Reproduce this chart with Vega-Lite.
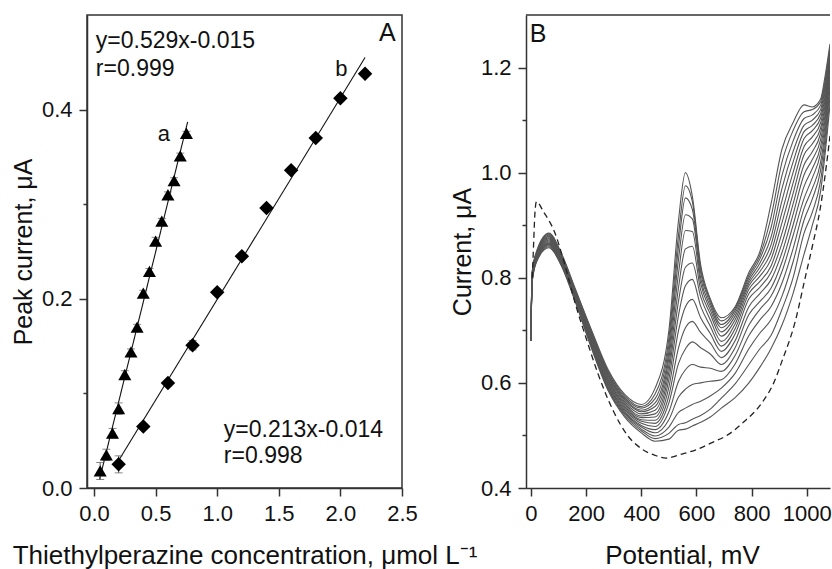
{
"$schema":"https://vega.github.io/schema/vega-lite/v6.json",
"background":"white",
"padding":{"left":10,"top":14,"right":0,"bottom":0},
"spacing":124,
"bounds":"flush",
"config":{
 "font":"Liberation Sans",
 "view":{"stroke":"#333","strokeWidth":1.5},
 "axis":{"domainColor":"#333","domainWidth":1.5,"tickColor":"#333","tickWidth":1.5,"labelFontSize":22,"labelColor":"#111","labelFont":"Liberation Sans","titleFont":"Liberation Sans","titleFontSize":25,"titleFontWeight":"normal","titleColor":"#111","grid":false}
},
"datasets":{
 "fitA":[{"s":"a","x":0.045,"y":0.009},{"s":"a","x":0.76,"y":0.387},{"s":"b","x":0.2,"y":0.029},{"s":"b","x":2.2,"y":0.455}],
 "ptsA":[
  {"s":"a","x":0.05,"y":0.018,"lo":0.009,"hi":0.027},
  {"s":"a","x":0.1,"y":0.035,"lo":0.029,"hi":0.041},
  {"s":"a","x":0.15,"y":0.058,"lo":0.053,"hi":0.063},
  {"s":"a","x":0.2,"y":0.084,"lo":0.078,"hi":0.090},
  {"s":"a","x":0.25,"y":0.120,"lo":0.116,"hi":0.124},
  {"s":"a","x":0.3,"y":0.144,"lo":0.141,"hi":0.147},
  {"s":"a","x":0.35,"y":0.170,"lo":0.167,"hi":0.173},
  {"s":"a","x":0.4,"y":0.206,"lo":0.203,"hi":0.209},
  {"s":"a","x":0.45,"y":0.229,"lo":0.226,"hi":0.232},
  {"s":"a","x":0.5,"y":0.261,"lo":0.257,"hi":0.265},
  {"s":"a","x":0.55,"y":0.282,"lo":0.279,"hi":0.285},
  {"s":"a","x":0.6,"y":0.310,"lo":0.307,"hi":0.313},
  {"s":"a","x":0.65,"y":0.325,"lo":0.322,"hi":0.328},
  {"s":"a","x":0.7,"y":0.351,"lo":0.348,"hi":0.354},
  {"s":"a","x":0.75,"y":0.375,"lo":0.373,"hi":0.377},
  {"s":"b","x":0.2,"y":0.025,"lo":0.016,"hi":0.034},
  {"s":"b","x":0.4,"y":0.065,"lo":0.062,"hi":0.068},
  {"s":"b","x":0.6,"y":0.111,"lo":0.108,"hi":0.114},
  {"s":"b","x":0.8,"y":0.151,"lo":0.146,"hi":0.156},
  {"s":"b","x":1.0,"y":0.207,"lo":0.204,"hi":0.210},
  {"s":"b","x":1.2,"y":0.245,"lo":0.242,"hi":0.248},
  {"s":"b","x":1.4,"y":0.296,"lo":0.293,"hi":0.299},
  {"s":"b","x":1.6,"y":0.336,"lo":0.333,"hi":0.339},
  {"s":"b","x":1.8,"y":0.370,"lo":0.367,"hi":0.373},
  {"s":"b","x":2.0,"y":0.412,"lo":0.409,"hi":0.415},
  {"s":"b","x":2.2,"y":0.438,"lo":0.435,"hi":0.441}
 ],
 "eqA":[{"x":0.015,"y":0.465,"t":"y=0.529x-0.015"},{"x":0.015,"y":0.436,"t":"r=0.999"},{"x":1.054,"y":0.054,"t":"y=0.213x-0.014"},{"x":1.054,"y":0.026,"t":"r=0.998"}],
 "lblA":[{"x":0.568,"y":0.3665,"t":"a"},{"x":2.007,"y":0.436,"t":"b"}],
 "panA":[{"x":2.449,"y":0.4726,"t":"A"}],
 "panB":[{"x":-4,"y":1.249,"t":"B"}],
 "dash":[{"x":5,"y":0.80},{"x":10,"y":0.87},{"x":14,"y":0.92},{"x":20,"y":0.945},{"x":45,"y":0.926},{"x":87,"y":0.885},{"x":120,"y":0.83},{"x":160,"y":0.752},{"x":200,"y":0.685},{"x":244,"y":0.616},{"x":300,"y":0.545},{"x":350,"y":0.50},{"x":400,"y":0.475},{"x":450,"y":0.462},{"x":490,"y":0.457},{"x":550,"y":0.465},{"x":600,"y":0.473},{"x":650,"y":0.485},{"x":716,"y":0.502},{"x":770,"y":0.525},{"x":837,"y":0.562},{"x":880,"y":0.60},{"x":909,"y":0.64},{"x":958,"y":0.717},{"x":994,"y":0.80},{"x":1020,"y":0.86},{"x":1048,"y":0.93},{"x":1070,"y":1.01},{"x":1084,"y":1.07}],
 "curves":[
{"c":1,"x":0,"y":0.68},{"c":1,"x":4,"y":0.790},{"c":1,"x":20,"y":0.830},{"c":1,"x":65,"y":0.857},{"c":1,"x":110,"y":0.823},{"c":1,"x":160,"y":0.755},{"c":1,"x":220,"y":0.665},{"c":1,"x":280,"y":0.585},{"c":1,"x":340,"y":0.535},{"c":1,"x":400,"y":0.505},{"c":1,"x":450,"y":0.489},{"c":1,"x":500,"y":0.493},{"c":1,"x":535,"y":0.510},{"c":1,"x":560,"y":0.512},{"c":1,"x":585,"y":0.518},{"c":1,"x":615,"y":0.525},{"c":1,"x":650,"y":0.535},{"c":1,"x":690,"y":0.552},{"c":1,"x":740,"y":0.572},{"c":1,"x":790,"y":0.600},{"c":1,"x":830,"y":0.630},{"c":1,"x":870,"y":0.665},{"c":1,"x":910,"y":0.710},{"c":1,"x":950,"y":0.770},{"c":1,"x":990,"y":0.845},{"c":1,"x":1020,"y":0.900},{"c":1,"x":1050,"y":0.965},{"c":1,"x":1065,"y":1.030},{"c":1,"x":1084,"y":1.130},
{"c":2,"x":0,"y":0.68},{"c":2,"x":4,"y":0.791},{"c":2,"x":20,"y":0.831},{"c":2,"x":65,"y":0.859},{"c":2,"x":110,"y":0.825},{"c":2,"x":160,"y":0.757},{"c":2,"x":220,"y":0.667},{"c":2,"x":280,"y":0.588},{"c":2,"x":340,"y":0.538},{"c":2,"x":400,"y":0.509},{"c":2,"x":450,"y":0.494},{"c":2,"x":500,"y":0.504},{"c":2,"x":535,"y":0.521},{"c":2,"x":560,"y":0.524},{"c":2,"x":585,"y":0.531},{"c":2,"x":615,"y":0.538},{"c":2,"x":650,"y":0.550},{"c":2,"x":690,"y":0.571},{"c":2,"x":740,"y":0.598},{"c":2,"x":790,"y":0.635},{"c":2,"x":830,"y":0.665},{"c":2,"x":870,"y":0.690},{"c":2,"x":910,"y":0.740},{"c":2,"x":950,"y":0.800},{"c":2,"x":990,"y":0.885},{"c":2,"x":1020,"y":0.925},{"c":2,"x":1050,"y":0.985},{"c":2,"x":1065,"y":1.045},{"c":2,"x":1084,"y":1.145},
{"c":3,"x":0,"y":0.68},{"c":3,"x":4,"y":0.793},{"c":3,"x":20,"y":0.833},{"c":3,"x":65,"y":0.861},{"c":3,"x":110,"y":0.826},{"c":3,"x":160,"y":0.758},{"c":3,"x":220,"y":0.670},{"c":3,"x":280,"y":0.590},{"c":3,"x":340,"y":0.541},{"c":3,"x":400,"y":0.512},{"c":3,"x":450,"y":0.499},{"c":3,"x":500,"y":0.516},{"c":3,"x":535,"y":0.544},{"c":3,"x":560,"y":0.552},{"c":3,"x":585,"y":0.559},{"c":3,"x":615,"y":0.565},{"c":3,"x":650,"y":0.575},{"c":3,"x":690,"y":0.590},{"c":3,"x":740,"y":0.618},{"c":3,"x":790,"y":0.665},{"c":3,"x":830,"y":0.695},{"c":3,"x":870,"y":0.720},{"c":3,"x":910,"y":0.765},{"c":3,"x":950,"y":0.830},{"c":3,"x":990,"y":0.910},{"c":3,"x":1020,"y":0.950},{"c":3,"x":1050,"y":1.005},{"c":3,"x":1065,"y":1.060},{"c":3,"x":1084,"y":1.160},
{"c":4,"x":0,"y":0.68},{"c":4,"x":4,"y":0.794},{"c":4,"x":20,"y":0.834},{"c":4,"x":65,"y":0.863},{"c":4,"x":110,"y":0.828},{"c":4,"x":160,"y":0.760},{"c":4,"x":220,"y":0.672},{"c":4,"x":280,"y":0.593},{"c":4,"x":340,"y":0.544},{"c":4,"x":400,"y":0.516},{"c":4,"x":450,"y":0.505},{"c":4,"x":500,"y":0.530},{"c":4,"x":535,"y":0.573},{"c":4,"x":560,"y":0.588},{"c":4,"x":585,"y":0.597},{"c":4,"x":615,"y":0.600},{"c":4,"x":650,"y":0.603},{"c":4,"x":690,"y":0.606},{"c":4,"x":740,"y":0.636},{"c":4,"x":790,"y":0.690},{"c":4,"x":830,"y":0.720},{"c":4,"x":870,"y":0.745},{"c":4,"x":910,"y":0.790},{"c":4,"x":950,"y":0.855},{"c":4,"x":990,"y":0.932},{"c":4,"x":1020,"y":0.970},{"c":4,"x":1050,"y":1.020},{"c":4,"x":1065,"y":1.073},{"c":4,"x":1084,"y":1.170},
{"c":5,"x":0,"y":0.68},{"c":5,"x":4,"y":0.795},{"c":5,"x":20,"y":0.835},{"c":5,"x":65,"y":0.864},{"c":5,"x":110,"y":0.829},{"c":5,"x":160,"y":0.762},{"c":5,"x":220,"y":0.674},{"c":5,"x":280,"y":0.596},{"c":5,"x":340,"y":0.546},{"c":5,"x":400,"y":0.519},{"c":5,"x":450,"y":0.511},{"c":5,"x":500,"y":0.545},{"c":5,"x":535,"y":0.603},{"c":5,"x":560,"y":0.625},{"c":5,"x":585,"y":0.635},{"c":5,"x":615,"y":0.630},{"c":5,"x":650,"y":0.628},{"c":5,"x":690,"y":0.622},{"c":5,"x":740,"y":0.652},{"c":5,"x":790,"y":0.710},{"c":5,"x":830,"y":0.740},{"c":5,"x":870,"y":0.765},{"c":5,"x":910,"y":0.812},{"c":5,"x":950,"y":0.880},{"c":5,"x":990,"y":0.951},{"c":5,"x":1020,"y":0.990},{"c":5,"x":1050,"y":1.037},{"c":5,"x":1065,"y":1.085},{"c":5,"x":1084,"y":1.180},
{"c":6,"x":0,"y":0.68},{"c":6,"x":4,"y":0.797},{"c":6,"x":20,"y":0.837},{"c":6,"x":65,"y":0.866},{"c":6,"x":110,"y":0.831},{"c":6,"x":160,"y":0.763},{"c":6,"x":220,"y":0.677},{"c":6,"x":280,"y":0.598},{"c":6,"x":340,"y":0.549},{"c":6,"x":400,"y":0.523},{"c":6,"x":450,"y":0.517},{"c":6,"x":500,"y":0.562},{"c":6,"x":535,"y":0.637},{"c":6,"x":560,"y":0.665},{"c":6,"x":585,"y":0.678},{"c":6,"x":615,"y":0.667},{"c":6,"x":650,"y":0.655},{"c":6,"x":690,"y":0.635},{"c":6,"x":740,"y":0.667},{"c":6,"x":790,"y":0.730},{"c":6,"x":830,"y":0.755},{"c":6,"x":870,"y":0.780},{"c":6,"x":910,"y":0.830},{"c":6,"x":950,"y":0.900},{"c":6,"x":990,"y":0.974},{"c":6,"x":1020,"y":1.008},{"c":6,"x":1050,"y":1.050},{"c":6,"x":1065,"y":1.096},{"c":6,"x":1084,"y":1.190},
{"c":7,"x":0,"y":0.68},{"c":7,"x":4,"y":0.798},{"c":7,"x":20,"y":0.838},{"c":7,"x":65,"y":0.868},{"c":7,"x":110,"y":0.833},{"c":7,"x":160,"y":0.765},{"c":7,"x":220,"y":0.679},{"c":7,"x":280,"y":0.601},{"c":7,"x":340,"y":0.552},{"c":7,"x":400,"y":0.527},{"c":7,"x":450,"y":0.523},{"c":7,"x":500,"y":0.576},{"c":7,"x":535,"y":0.667},{"c":7,"x":560,"y":0.705},{"c":7,"x":585,"y":0.717},{"c":7,"x":615,"y":0.696},{"c":7,"x":650,"y":0.676},{"c":7,"x":690,"y":0.648},{"c":7,"x":740,"y":0.680},{"c":7,"x":790,"y":0.745},{"c":7,"x":830,"y":0.770},{"c":7,"x":870,"y":0.796},{"c":7,"x":910,"y":0.848},{"c":7,"x":950,"y":0.920},{"c":7,"x":990,"y":0.996},{"c":7,"x":1020,"y":1.025},{"c":7,"x":1050,"y":1.063},{"c":7,"x":1065,"y":1.106},{"c":7,"x":1084,"y":1.200},
{"c":8,"x":0,"y":0.68},{"c":8,"x":4,"y":0.799},{"c":8,"x":20,"y":0.839},{"c":8,"x":65,"y":0.870},{"c":8,"x":110,"y":0.834},{"c":8,"x":160,"y":0.767},{"c":8,"x":220,"y":0.681},{"c":8,"x":280,"y":0.604},{"c":8,"x":340,"y":0.555},{"c":8,"x":400,"y":0.530},{"c":8,"x":450,"y":0.529},{"c":8,"x":500,"y":0.592},{"c":8,"x":535,"y":0.700},{"c":8,"x":560,"y":0.745},{"c":8,"x":585,"y":0.759},{"c":8,"x":615,"y":0.724},{"c":8,"x":650,"y":0.694},{"c":8,"x":690,"y":0.660},{"c":8,"x":740,"y":0.693},{"c":8,"x":790,"y":0.760},{"c":8,"x":830,"y":0.782},{"c":8,"x":870,"y":0.810},{"c":8,"x":910,"y":0.866},{"c":8,"x":950,"y":0.940},{"c":8,"x":990,"y":1.015},{"c":8,"x":1020,"y":1.040},{"c":8,"x":1050,"y":1.075},{"c":8,"x":1065,"y":1.116},{"c":8,"x":1084,"y":1.205},
{"c":9,"x":0,"y":0.68},{"c":9,"x":4,"y":0.800},{"c":9,"x":20,"y":0.840},{"c":9,"x":65,"y":0.872},{"c":9,"x":110,"y":0.836},{"c":9,"x":160,"y":0.768},{"c":9,"x":220,"y":0.684},{"c":9,"x":280,"y":0.606},{"c":9,"x":340,"y":0.558},{"c":9,"x":400,"y":0.534},{"c":9,"x":450,"y":0.535},{"c":9,"x":500,"y":0.607},{"c":9,"x":535,"y":0.729},{"c":9,"x":560,"y":0.785},{"c":9,"x":585,"y":0.797},{"c":9,"x":615,"y":0.746},{"c":9,"x":650,"y":0.708},{"c":9,"x":690,"y":0.670},{"c":9,"x":740,"y":0.703},{"c":9,"x":790,"y":0.770},{"c":9,"x":830,"y":0.793},{"c":9,"x":870,"y":0.822},{"c":9,"x":910,"y":0.885},{"c":9,"x":950,"y":0.960},{"c":9,"x":990,"y":1.034},{"c":9,"x":1020,"y":1.055},{"c":9,"x":1050,"y":1.085},{"c":9,"x":1065,"y":1.125},{"c":9,"x":1084,"y":1.210},
{"c":10,"x":0,"y":0.68},{"c":10,"x":4,"y":0.802},{"c":10,"x":20,"y":0.842},{"c":10,"x":65,"y":0.874},{"c":10,"x":110,"y":0.837},{"c":10,"x":160,"y":0.770},{"c":10,"x":220,"y":0.686},{"c":10,"x":280,"y":0.609},{"c":10,"x":340,"y":0.561},{"c":10,"x":400,"y":0.537},{"c":10,"x":450,"y":0.541},{"c":10,"x":500,"y":0.621},{"c":10,"x":535,"y":0.756},{"c":10,"x":560,"y":0.820},{"c":10,"x":585,"y":0.828},{"c":10,"x":615,"y":0.764},{"c":10,"x":650,"y":0.720},{"c":10,"x":690,"y":0.679},{"c":10,"x":740,"y":0.712},{"c":10,"x":790,"y":0.778},{"c":10,"x":830,"y":0.803},{"c":10,"x":870,"y":0.835},{"c":10,"x":910,"y":0.905},{"c":10,"x":950,"y":0.980},{"c":10,"x":990,"y":1.050},{"c":10,"x":1020,"y":1.068},{"c":10,"x":1050,"y":1.095},{"c":10,"x":1065,"y":1.134},{"c":10,"x":1084,"y":1.215},
{"c":11,"x":0,"y":0.68},{"c":11,"x":4,"y":0.803},{"c":11,"x":20,"y":0.843},{"c":11,"x":65,"y":0.876},{"c":11,"x":110,"y":0.839},{"c":11,"x":160,"y":0.772},{"c":11,"x":220,"y":0.688},{"c":11,"x":280,"y":0.612},{"c":11,"x":340,"y":0.564},{"c":11,"x":400,"y":0.541},{"c":11,"x":450,"y":0.548},{"c":11,"x":500,"y":0.634},{"c":11,"x":535,"y":0.782},{"c":11,"x":560,"y":0.855},{"c":11,"x":585,"y":0.860},{"c":11,"x":615,"y":0.777},{"c":11,"x":650,"y":0.731},{"c":11,"x":690,"y":0.689},{"c":11,"x":740,"y":0.720},{"c":11,"x":790,"y":0.785},{"c":11,"x":830,"y":0.812},{"c":11,"x":870,"y":0.848},{"c":11,"x":910,"y":0.925},{"c":11,"x":950,"y":1.000},{"c":11,"x":990,"y":1.065},{"c":11,"x":1020,"y":1.080},{"c":11,"x":1050,"y":1.104},{"c":11,"x":1065,"y":1.142},{"c":11,"x":1084,"y":1.220},
{"c":12,"x":0,"y":0.68},{"c":12,"x":4,"y":0.804},{"c":12,"x":20,"y":0.844},{"c":12,"x":65,"y":0.878},{"c":12,"x":110,"y":0.841},{"c":12,"x":160,"y":0.773},{"c":12,"x":220,"y":0.691},{"c":12,"x":280,"y":0.614},{"c":12,"x":340,"y":0.567},{"c":12,"x":400,"y":0.545},{"c":12,"x":450,"y":0.555},{"c":12,"x":500,"y":0.647},{"c":12,"x":535,"y":0.809},{"c":12,"x":560,"y":0.890},{"c":12,"x":585,"y":0.888},{"c":12,"x":615,"y":0.790},{"c":12,"x":650,"y":0.739},{"c":12,"x":690,"y":0.697},{"c":12,"x":740,"y":0.727},{"c":12,"x":790,"y":0.790},{"c":12,"x":830,"y":0.820},{"c":12,"x":870,"y":0.862},{"c":12,"x":910,"y":0.947},{"c":12,"x":950,"y":1.020},{"c":12,"x":990,"y":1.078},{"c":12,"x":1020,"y":1.090},{"c":12,"x":1050,"y":1.112},{"c":12,"x":1065,"y":1.150},{"c":12,"x":1084,"y":1.225},
{"c":13,"x":0,"y":0.68},{"c":13,"x":4,"y":0.806},{"c":13,"x":20,"y":0.846},{"c":13,"x":65,"y":0.879},{"c":13,"x":110,"y":0.842},{"c":13,"x":160,"y":0.775},{"c":13,"x":220,"y":0.693},{"c":13,"x":280,"y":0.617},{"c":13,"x":340,"y":0.569},{"c":13,"x":400,"y":0.548},{"c":13,"x":450,"y":0.562},{"c":13,"x":500,"y":0.659},{"c":13,"x":535,"y":0.836},{"c":13,"x":560,"y":0.920},{"c":13,"x":585,"y":0.912},{"c":13,"x":615,"y":0.800},{"c":13,"x":650,"y":0.746},{"c":13,"x":690,"y":0.705},{"c":13,"x":740,"y":0.733},{"c":13,"x":790,"y":0.795},{"c":13,"x":830,"y":0.828},{"c":13,"x":870,"y":0.877},{"c":13,"x":910,"y":0.970},{"c":13,"x":950,"y":1.040},{"c":13,"x":990,"y":1.090},{"c":13,"x":1020,"y":1.100},{"c":13,"x":1050,"y":1.120},{"c":13,"x":1065,"y":1.158},{"c":13,"x":1084,"y":1.230},
{"c":14,"x":0,"y":0.68},{"c":14,"x":4,"y":0.807},{"c":14,"x":20,"y":0.847},{"c":14,"x":65,"y":0.881},{"c":14,"x":110,"y":0.844},{"c":14,"x":160,"y":0.777},{"c":14,"x":220,"y":0.695},{"c":14,"x":280,"y":0.620},{"c":14,"x":340,"y":0.572},{"c":14,"x":400,"y":0.552},{"c":14,"x":450,"y":0.570},{"c":14,"x":500,"y":0.672},{"c":14,"x":535,"y":0.860},{"c":14,"x":560,"y":0.952},{"c":14,"x":585,"y":0.930},{"c":14,"x":615,"y":0.810},{"c":14,"x":650,"y":0.752},{"c":14,"x":690,"y":0.711},{"c":14,"x":740,"y":0.738},{"c":14,"x":790,"y":0.800},{"c":14,"x":830,"y":0.836},{"c":14,"x":870,"y":0.895},{"c":14,"x":910,"y":0.995},{"c":14,"x":950,"y":1.060},{"c":14,"x":990,"y":1.103},{"c":14,"x":1020,"y":1.110},{"c":14,"x":1050,"y":1.128},{"c":14,"x":1065,"y":1.165},{"c":14,"x":1084,"y":1.235},
{"c":15,"x":0,"y":0.68},{"c":15,"x":4,"y":0.808},{"c":15,"x":20,"y":0.848},{"c":15,"x":65,"y":0.883},{"c":15,"x":110,"y":0.845},{"c":15,"x":160,"y":0.778},{"c":15,"x":220,"y":0.698},{"c":15,"x":280,"y":0.622},{"c":15,"x":340,"y":0.575},{"c":15,"x":400,"y":0.555},{"c":15,"x":450,"y":0.579},{"c":15,"x":500,"y":0.685},{"c":15,"x":535,"y":0.882},{"c":15,"x":560,"y":0.975},{"c":15,"x":585,"y":0.945},{"c":15,"x":615,"y":0.818},{"c":15,"x":650,"y":0.757},{"c":15,"x":690,"y":0.718},{"c":15,"x":740,"y":0.742},{"c":15,"x":790,"y":0.805},{"c":15,"x":830,"y":0.843},{"c":15,"x":870,"y":0.915},{"c":15,"x":910,"y":1.020},{"c":15,"x":950,"y":1.080},{"c":15,"x":990,"y":1.116},{"c":15,"x":1020,"y":1.120},{"c":15,"x":1050,"y":1.135},{"c":15,"x":1065,"y":1.172},{"c":15,"x":1084,"y":1.240},
{"c":16,"x":0,"y":0.68},{"c":16,"x":4,"y":0.810},{"c":16,"x":20,"y":0.850},{"c":16,"x":65,"y":0.885},{"c":16,"x":110,"y":0.847},{"c":16,"x":160,"y":0.780},{"c":16,"x":220,"y":0.700},{"c":16,"x":280,"y":0.625},{"c":16,"x":340,"y":0.578},{"c":16,"x":400,"y":0.559},{"c":16,"x":450,"y":0.590},{"c":16,"x":500,"y":0.700},{"c":16,"x":535,"y":0.910},{"c":16,"x":560,"y":1.000},{"c":16,"x":585,"y":0.955},{"c":16,"x":615,"y":0.825},{"c":16,"x":650,"y":0.760},{"c":16,"x":690,"y":0.724},{"c":16,"x":740,"y":0.745},{"c":16,"x":790,"y":0.810},{"c":16,"x":830,"y":0.850},{"c":16,"x":870,"y":0.940},{"c":16,"x":910,"y":1.045},{"c":16,"x":950,"y":1.095},{"c":16,"x":990,"y":1.129},{"c":16,"x":1020,"y":1.125},{"c":16,"x":1050,"y":1.140},{"c":16,"x":1065,"y":1.180},{"c":16,"x":1084,"y":1.245}
 ]
},
"hconcat":[
 {"width":315,"height":473,
  "layer":[
   {"data":{"name":"fitA"},"mark":{"type":"line","color":"#111","strokeWidth":1.1,"clip":true},
    "encoding":{
     "x":{"field":"x","type":"quantitative","title":"Thiethylperazine concentration, μmol L⁻¹","scale":{"domain":[-0.057,2.5],"nice":false,"zero":false},
      "axis":{"values":[0,0.25,0.5,0.75,1,1.25,1.5,1.75,2,2.25,2.5],"labelExpr":"round(datum.value*4)%2==0 ? format(datum.value,'.1f') : ''","tickSize":{"condition":{"test":"round(datum.value*4)%2==0","value":8},"value":4},"labelPadding":7,"labelFlush":false,"labelOverlap":false,"titlePadding":18,"titleFontSize":26}},
     "y":{"field":"y","type":"quantitative","title":"Peak current, μA","scale":{"domain":[0,0.5],"nice":false,"zero":false},
      "axis":{"values":[0,0.1,0.2,0.3,0.4],"labelExpr":"round(datum.value*10)%2==0 ? format(datum.value,'.1f') : ''","tickSize":{"condition":{"test":"round(datum.value*10)%2==0","value":8},"value":4},"labelPadding":7,"labelFlush":false,"labelOverlap":false,"titlePadding":5}},
     "detail":{"field":"s"}}},
   {"data":{"name":"ptsA"},"mark":{"type":"errorbar","ticks":{"size":8},"color":"#555"},
    "encoding":{
     "x":{"field":"x","type":"quantitative","title":"Thiethylperazine concentration, μmol L⁻¹","scale":{"domain":[-0.057,2.5],"nice":false,"zero":false}},
     "y":{"field":"lo","type":"quantitative","title":"Peak current, μA","scale":{"domain":[0,0.5],"nice":false,"zero":false}},
     "y2":{"field":"hi"}}},
   {"data":{"name":"ptsA"},"transform":[{"filter":"datum.s=='a'"}],"mark":{"type":"point","shape":"triangle-up","filled":true,"color":"#000","opacity":1,"size":170},
    "encoding":{
     "x":{"field":"x","type":"quantitative","title":"Thiethylperazine concentration, μmol L⁻¹","scale":{"domain":[-0.057,2.5],"nice":false,"zero":false}},
     "y":{"field":"y","type":"quantitative","title":"Peak current, μA","scale":{"domain":[0,0.5],"nice":false,"zero":false}}}},
   {"data":{"name":"ptsA"},"transform":[{"filter":"datum.s=='b'"}],"mark":{"type":"point","shape":"diamond","filled":true,"color":"#000","opacity":1,"size":210},
    "encoding":{
     "x":{"field":"x","type":"quantitative","title":"Thiethylperazine concentration, μmol L⁻¹","scale":{"domain":[-0.057,2.5],"nice":false,"zero":false}},
     "y":{"field":"y","type":"quantitative","title":"Peak current, μA","scale":{"domain":[0,0.5],"nice":false,"zero":false}}}},
   {"data":{"name":"eqA"},"mark":{"type":"text","align":"left","baseline":"alphabetic","fontSize":23,"color":"#111"},
    "encoding":{
     "x":{"field":"x","type":"quantitative","title":"Thiethylperazine concentration, μmol L⁻¹","scale":{"domain":[-0.057,2.5],"nice":false,"zero":false}},
     "y":{"field":"y","type":"quantitative","title":"Peak current, μA","scale":{"domain":[0,0.5],"nice":false,"zero":false}},
     "text":{"field":"t"}}},
   {"data":{"name":"lblA"},"mark":{"type":"text","align":"center","baseline":"alphabetic","fontSize":22,"color":"#111"},
    "encoding":{
     "x":{"field":"x","type":"quantitative","title":"Thiethylperazine concentration, μmol L⁻¹","scale":{"domain":[-0.057,2.5],"nice":false,"zero":false}},
     "y":{"field":"y","type":"quantitative","title":"Peak current, μA","scale":{"domain":[0,0.5],"nice":false,"zero":false}},
     "text":{"field":"t"}}},
   {"data":{"name":"panA"},"mark":{"type":"text","align":"right","baseline":"alphabetic","fontSize":25,"color":"#111"},
    "encoding":{
     "x":{"field":"x","type":"quantitative","title":"Thiethylperazine concentration, μmol L⁻¹","scale":{"domain":[-0.057,2.5],"nice":false,"zero":false}},
     "y":{"field":"y","type":"quantitative","title":"Peak current, μA","scale":{"domain":[0,0.5],"nice":false,"zero":false}},
     "text":{"field":"t"}}}
  ]},
 {"width":304,"height":473,"view":{"stroke":null},
  "layer":[
   {"data":{"name":"curves"},"mark":{"type":"line","color":"#555","strokeWidth":1.1,"interpolate":"monotone","clip":true},
    "encoding":{
     "x":{"field":"x","type":"quantitative","title":"Potential, mV","scale":{"domain":[-18,1084],"nice":false,"zero":false},
      "axis":{"values":[0,100,200,300,400,500,600,700,800,900,1000],"labelExpr":"datum.value%200==0 ? format(datum.value,'d') : ''","tickSize":{"condition":{"test":"datum.value%200==0","value":8},"value":4},"labelPadding":7,"labelFlush":false,"labelOverlap":false,"titlePadding":18,"titleFontSize":26,"titleX":156,"titleAlign":"center"}},
     "y":{"field":"y","type":"quantitative","title":"Current, μA","scale":{"domain":[0.4,1.3],"nice":false,"zero":false},
      "axis":{"values":[0.4,0.5,0.6,0.7,0.8,0.9,1.0,1.1,1.2],"labelExpr":"round(datum.value*10)%2==0 ? format(datum.value,'.1f') : ''","tickSize":{"condition":{"test":"round(datum.value*10)%2==0","value":8},"value":4},"labelPadding":7,"labelFlush":false,"labelOverlap":false,"titlePadding":5}},
     "detail":{"field":"c"}}},
   {"data":{"name":"dash"},"mark":{"type":"line","color":"#222","strokeWidth":1.3,"strokeDash":[6,4],"interpolate":"monotone","clip":true},
    "encoding":{
     "x":{"field":"x","type":"quantitative","title":"Potential, mV","scale":{"domain":[-18,1084],"nice":false,"zero":false}},
     "y":{"field":"y","type":"quantitative","title":"Current, μA","scale":{"domain":[0.4,1.3],"nice":false,"zero":false}}}},
   {"data":{"values":[{}]},"mark":{"type":"rule","color":"#333","strokeWidth":1.5},
    "encoding":{"y":{"datum":1.3,"type":"quantitative","title":"Current, μA","scale":{"domain":[0.4,1.3],"nice":false,"zero":false}}}},
   {"data":{"name":"panB"},"mark":{"type":"text","align":"left","baseline":"alphabetic","fontSize":25,"color":"#111"},
    "encoding":{
     "x":{"field":"x","type":"quantitative","title":"Potential, mV","scale":{"domain":[-18,1084],"nice":false,"zero":false}},
     "y":{"field":"y","type":"quantitative","title":"Current, μA","scale":{"domain":[0.4,1.3],"nice":false,"zero":false}},
     "text":{"field":"t"}}}
  ]}
]
}
